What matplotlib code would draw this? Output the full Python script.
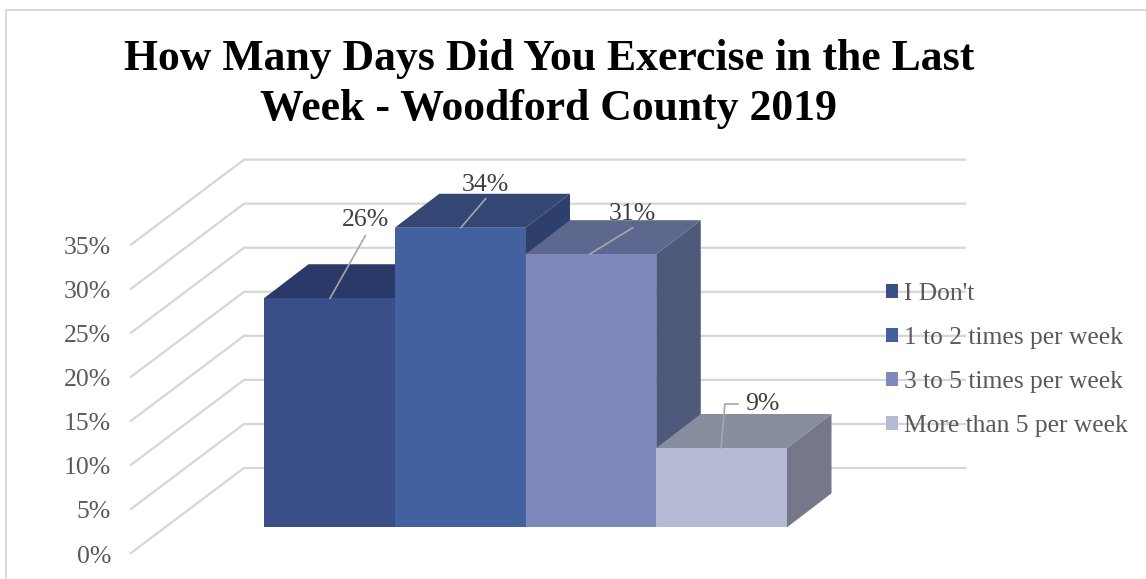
import matplotlib
matplotlib.use("Agg")
import matplotlib.pyplot as plt
from matplotlib.patches import Polygon, Patch

categories = ["I Don't", "1 to 2 times per week", "3 to 5 times per week", "More than 5 per week"]
values = [26, 34, 31, 9]
data_labels = ["26%", "34%", "31%", "9%"]
tick_values = [0, 5, 10, 15, 20, 25, 30, 35]
tick_labels = ["0%", "5%", "10%", "15%", "20%", "25%", "30%", "35%"]
title = "How Many Days Did You Exercise in the Last\nWeek - Woodford County 2019"

front_colors = ["#3A4F87", "#44619F", "#7C89BA", "#B4B9D4"]
top_colors = ["#2A3967", "#344673", "#5E688E", "#888C9F"]
side_colors = ["#27355F", "#2E3F6B", "#4F597B", "#757888"]

W, H = 1146, 579
BAR_PX = 130.75
PCT_PX = 8.81
X0, Y0 = 264, 527.3

fig = plt.figure(figsize=(W / 100, H / 100), dpi=100)
ax = fig.add_axes([0, 0, 1, 1])
ax.set_xlim(-X0 / BAR_PX, (W - X0) / BAR_PX)
ax.set_ylim(-(H - Y0) / PCT_PX, Y0 / PCT_PX)
ax.axis("off")

serif = ["Liberation Serif", "DejaVu Serif"]
dx, dy = 44.5 / BAR_PX, 34 / PCT_PX
wall_l = (131 - X0) / BAR_PX
wall_b = (244 - X0) / BAR_PX
wall_r = (965 - X0) / BAR_PX
wall_front = -25.7 / PCT_PX
wall_back = 59.3 / PCT_PX
grid = "#D6D6D6"

# chart frame: left and top edges only, the top running off the right side
frame_l, frame_t = (6 - X0) / BAR_PX, (Y0 - 10) / PCT_PX
ybot = ax.get_ylim()[0]
xright = ax.get_xlim()[1]
ax.plot([frame_l, frame_l, xright], [ybot, frame_t, frame_t], color="#D9D9D9", lw=1.4, zorder=1)

# axis and walls
for t, lab in zip(tick_values, tick_labels):
    ax.plot([wall_l, wall_b, wall_r], [t + wall_front, t + wall_back, t + wall_back],
            color=grid, lw=1.6, zorder=1, solid_joinstyle="miter")
    ax.text(wall_l - 20 / BAR_PX, t + wall_front - 0.4, lab, ha="right", va="center",
            family=serif, fontsize=18.5, color="#595959", zorder=2)

# bars
for i, v in enumerate(values):
    x0, x1 = i, i + 1
    ax.add_patch(Polygon([(x1, 0), (x1 + dx, dy), (x1 + dx, v + dy), (x1, v)], fc=side_colors[i], ec="none", zorder=3 + i))
    ax.add_patch(Polygon([(x0, v), (x1, v), (x1 + dx, v + dy), (x0 + dx, v + dy)], fc=top_colors[i], ec="none", zorder=3 + i))
    ax.add_patch(Polygon([(x0, 0), (x1, 0), (x1, v), (x0, v)], fc=front_colors[i], ec="none", zorder=3 + i))

# data labels with leader lines (offsets relative to each bar's top)
leader_start = [0.505, 0.505, 0.49, 0.495]
leader_paths = [[(0.27, 7.1)], [(0.19, 3.3)], [(0.33, 3.0)], [(0.03, 5.0), (0.13, 5.0)]]
label_pos = [(0.27, 8.9), (0.19, 4.9), (0.33, 4.6), (0.32, 5.0)]
for i, v in enumerate(values):
    sx = i + leader_start[i]
    xs = [sx] + [sx + p[0] for p in leader_paths[i]]
    ys = [v] + [v + p[1] for p in leader_paths[i]]
    ax.plot(xs, ys, color="#A6A6A6", lw=1.2, zorder=10)
    ax.text(sx + label_pos[i][0], v + label_pos[i][1], data_labels[i], ha="center", va="center",
            family=serif, fontsize=18.5, color="#404040", zorder=11)

# legend
handles = [Patch(fc=c, ec="none") for c in front_colors]
ax.legend(handles, categories, loc="center left", bbox_to_anchor=(886 / W, 1 - 360 / H),
          frameon=False, prop={"family": serif, "size": 18.4}, labelcolor="#595959",
          handlelength=0.47, handleheight=0.47, handletextpad=0.25, labelspacing=0.855, borderpad=0, borderaxespad=0)

ax.text((549 - X0) / BAR_PX, (Y0 - 84) / PCT_PX, title, ha="center", va="center", family=serif,
        fontsize=31.5, fontweight="bold", color="black", linespacing=1.31, zorder=12)

fig.savefig("out.png", dpi=100, facecolor="white")
